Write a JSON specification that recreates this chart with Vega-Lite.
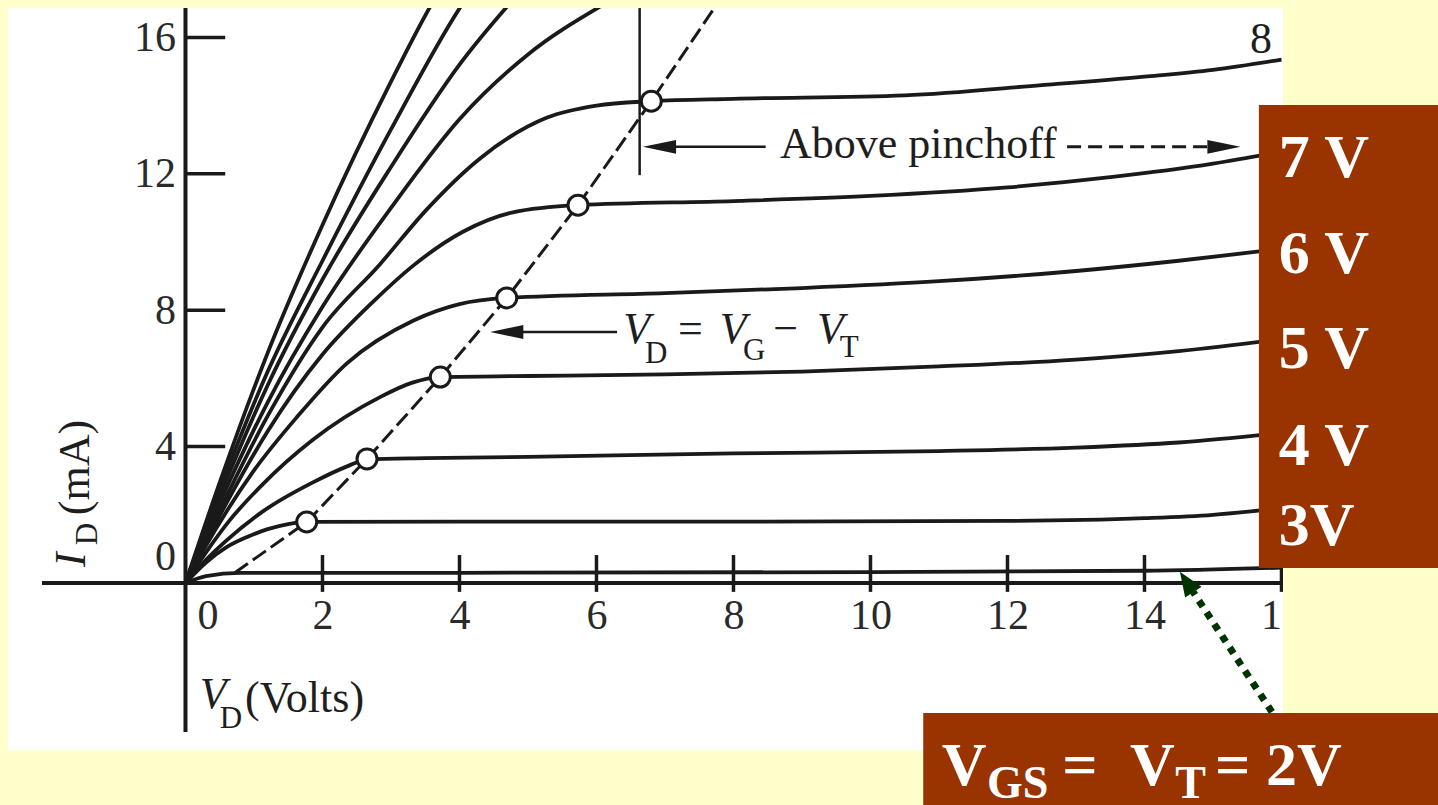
{
  "$schema": "https://vega.github.io/schema/vega-lite/v6.json",
  "width": 1275,
  "height": 742,
  "autosize": {"type": "none"},
  "padding": {"left": 8, "top": 8, "right": 155, "bottom": 55},
  "background": "#FFFFCC",
  "config": {"view": {"fill": "white", "stroke": null}, "axis": {"grid": false}},
  "datasets": {
    "curves": [
      {"vg": 2, "V": 0, "I": 0}, {"vg": 2, "V": 0.3, "I": 0.2}, {"vg": 2, "V": 0.8, "I": 0.3}, {"vg": 2, "V": 4, "I": 0.3}, {"vg": 2, "V": 10, "I": 0.32}, {"vg": 2, "V": 14, "I": 0.36}, {"vg": 2, "V": 16, "I": 0.45},
      {"vg": 3, "V": 0, "I": 0}, {"vg": 3, "V": 0.3, "I": 0.6}, {"vg": 3, "V": 0.6, "I": 1.05}, {"vg": 3, "V": 0.9, "I": 1.35}, {"vg": 3, "V": 1.2, "I": 1.58}, {"vg": 3, "V": 1.5, "I": 1.73}, {"vg": 3, "V": 1.77, "I": 1.79}, {"vg": 3, "V": 4, "I": 1.8}, {"vg": 3, "V": 8, "I": 1.8}, {"vg": 3, "V": 12, "I": 1.82}, {"vg": 3, "V": 14, "I": 1.9}, {"vg": 3, "V": 15, "I": 2.0}, {"vg": 3, "V": 16, "I": 2.2},
      {"vg": 4, "V": 0, "I": 0}, {"vg": 4, "V": 0.3, "I": 0.68}, {"vg": 4, "V": 0.6, "I": 1.25}, {"vg": 4, "V": 1.13, "I": 2.1}, {"vg": 4, "V": 1.86, "I": 2.95}, {"vg": 4, "V": 2.36, "I": 3.42}, {"vg": 4, "V": 2.65, "I": 3.62}, {"vg": 4, "V": 3.5, "I": 3.66}, {"vg": 4, "V": 5, "I": 3.7}, {"vg": 4, "V": 8, "I": 3.8}, {"vg": 4, "V": 11, "I": 3.87}, {"vg": 4, "V": 13, "I": 3.97}, {"vg": 4, "V": 14.5, "I": 4.12}, {"vg": 4, "V": 16, "I": 4.4},
      {"vg": 5, "V": 0, "I": 0}, {"vg": 5, "V": 0.3, "I": 0.9}, {"vg": 5, "V": 0.65, "I": 1.85}, {"vg": 5, "V": 1.13, "I": 2.9}, {"vg": 5, "V": 1.86, "I": 4.2}, {"vg": 5, "V": 2.84, "I": 5.45}, {"vg": 5, "V": 3.3, "I": 5.87}, {"vg": 5, "V": 3.72, "I": 6.04}, {"vg": 5, "V": 5, "I": 6.07}, {"vg": 5, "V": 7, "I": 6.12}, {"vg": 5, "V": 9, "I": 6.2}, {"vg": 5, "V": 11, "I": 6.35}, {"vg": 5, "V": 13, "I": 6.55}, {"vg": 5, "V": 14.5, "I": 6.8}, {"vg": 5, "V": 16, "I": 7.15},
      {"vg": 6, "V": 0, "I": 0}, {"vg": 6, "V": 0.3, "I": 1.1}, {"vg": 6, "V": 0.6, "I": 2.1}, {"vg": 6, "V": 1, "I": 3.3}, {"vg": 6, "V": 1.62, "I": 4.85}, {"vg": 6, "V": 2.36, "I": 6.45}, {"vg": 6, "V": 3.33, "I": 7.7}, {"vg": 6, "V": 4, "I": 8.18}, {"vg": 6, "V": 4.69, "I": 8.36}, {"vg": 6, "V": 7, "I": 8.5}, {"vg": 6, "V": 9, "I": 8.65}, {"vg": 6, "V": 11, "I": 8.85}, {"vg": 6, "V": 13, "I": 9.15}, {"vg": 6, "V": 14.5, "I": 9.45}, {"vg": 6, "V": 16, "I": 9.8},
      {"vg": 7, "V": 0, "I": 0}, {"vg": 7, "V": 0.3, "I": 1.2}, {"vg": 7, "V": 0.6, "I": 2.35}, {"vg": 7, "V": 1.2, "I": 4.45}, {"vg": 7, "V": 2, "I": 6.7}, {"vg": 7, "V": 2.74, "I": 8.25}, {"vg": 7, "V": 3.32, "I": 9.3}, {"vg": 7, "V": 4.05, "I": 10.3}, {"vg": 7, "V": 4.78, "I": 10.87}, {"vg": 7, "V": 5.73, "I": 11.08}, {"vg": 7, "V": 8, "I": 11.2}, {"vg": 7, "V": 10, "I": 11.35}, {"vg": 7, "V": 12, "I": 11.6}, {"vg": 7, "V": 13.5, "I": 11.9}, {"vg": 7, "V": 15, "I": 12.3}, {"vg": 7, "V": 16, "I": 12.65},
      {"vg": 8, "V": 0, "I": 0}, {"vg": 8, "V": 0.3, "I": 1.3}, {"vg": 8, "V": 0.6, "I": 2.55}, {"vg": 8, "V": 1.2, "I": 4.9}, {"vg": 8, "V": 2, "I": 7.5}, {"vg": 8, "V": 2.84, "I": 9.35}, {"vg": 8, "V": 3.52, "I": 10.95}, {"vg": 8, "V": 4.3, "I": 12.45}, {"vg": 8, "V": 5.28, "I": 13.65}, {"vg": 8, "V": 6.0, "I": 14.0}, {"vg": 8, "V": 6.8, "I": 14.13}, {"vg": 8, "V": 8, "I": 14.2}, {"vg": 8, "V": 10.5, "I": 14.3}, {"vg": 8, "V": 12.5, "I": 14.6}, {"vg": 8, "V": 14, "I": 14.85}, {"vg": 8, "V": 15, "I": 15.05}, {"vg": 8, "V": 16, "I": 15.35},
      {"vg": 9, "V": 0, "I": 0}, {"vg": 9, "V": 0.5, "I": 2.35}, {"vg": 9, "V": 1.2, "I": 5.3}, {"vg": 9, "V": 2, "I": 8.1}, {"vg": 9, "V": 3, "I": 11.0}, {"vg": 9, "V": 4, "I": 13.6}, {"vg": 9, "V": 5, "I": 15.5}, {"vg": 9, "V": 6.05, "I": 16.9}, {"vg": 9, "V": 6.4, "I": 17.3},
      {"vg": 10, "V": 0, "I": 0}, {"vg": 10, "V": 0.5, "I": 2.55}, {"vg": 10, "V": 1.2, "I": 5.8}, {"vg": 10, "V": 2, "I": 8.9}, {"vg": 10, "V": 3, "I": 12.2}, {"vg": 10, "V": 4, "I": 15.2}, {"vg": 10, "V": 5, "I": 17.6},
      {"vg": 11, "V": 0, "I": 0}, {"vg": 11, "V": 0.5, "I": 2.75}, {"vg": 11, "V": 1.2, "I": 6.2}, {"vg": 11, "V": 2, "I": 9.45}, {"vg": 11, "V": 3, "I": 13.3}, {"vg": 11, "V": 4, "I": 16.85}, {"vg": 11, "V": 4.5, "I": 18.3},
      {"vg": 12, "V": 0, "I": 0}, {"vg": 12, "V": 0.5, "I": 2.95}, {"vg": 12, "V": 1.2, "I": 6.75}, {"vg": 12, "V": 2, "I": 10.5}, {"vg": 12, "V": 3, "I": 14.7}, {"vg": 12, "V": 3.6, "I": 17.0}, {"vg": 12, "V": 4, "I": 18.3}
    ],
    "locus": [
      {"V": 0.72, "I": 0.3}, {"V": 1.77, "I": 1.79}, {"V": 2.65, "I": 3.64}, {"V": 3.72, "I": 6.04}, {"V": 4.69, "I": 8.36}, {"V": 5.73, "I": 11.08}, {"V": 6.8, "I": 14.13}, {"V": 7.8, "I": 17.1}
    ],
    "circles": [
      {"V": 1.77, "I": 1.79}, {"V": 2.65, "I": 3.64}, {"V": 3.72, "I": 6.04}, {"V": 4.69, "I": 8.36}, {"V": 5.73, "I": 11.08}, {"V": 6.8, "I": 14.13}
    ],
    "axislines": [
      {"V": -2.095, "I": 0, "V2": 16.022, "I2": 0},
      {"V": 0, "I": 16.862, "V2": 0, "I2": -4.37}
    ],
    "ticks": [
      {"V": 2, "I": 0.82, "V2": 2, "I2": -0.26}, {"V": 4, "I": 0.82, "V2": 4, "I2": -0.26}, {"V": 6, "I": 0.82, "V2": 6, "I2": -0.26}, {"V": 8, "I": 0.82, "V2": 8, "I2": -0.26}, {"V": 10, "I": 0.82, "V2": 10, "I2": -0.26}, {"V": 12, "I": 0.82, "V2": 12, "I2": -0.26}, {"V": 14, "I": 0.82, "V2": 14, "I2": -0.26}, {"V": 16, "I": 0.82, "V2": 16, "I2": -0.26},
      {"V": 0, "I": 4, "V2": 0.58, "I2": 4}, {"V": 0, "I": 8, "V2": 0.58, "I2": 8}, {"V": 0, "I": 12, "V2": 0.58, "I2": 12}, {"V": 0, "I": 16, "V2": 0.58, "I2": 16}
    ],
    "annlines": [
      {"V": 6.63, "I": 16.86, "V2": 6.63, "I2": 11.96},
      {"V": 7.0, "I": 12.79, "V2": 8.47, "I2": 12.79},
      {"V": 4.8, "I": 7.36, "V2": 6.3, "I2": 7.36}
    ],
    "anndash": [
      {"V": 12.87, "I": 12.79, "V2": 14.95, "I2": 12.79}
    ],
    "headsLeft": [
      {"V": 6.92, "I": 12.79}, {"V": 4.69, "I": 7.36}
    ],
    "headsRight": [
      {"V": 15.16, "I": 12.79}
    ],
    "plain": [
      {"V": 8.68, "I": 12.46, "t": "Above pinchoff"},
      {"V": 7.19, "I": 7.04, "t": "="},
      {"V": 8.58, "I": 7.04, "t": "−"},
      {"V": 0.87, "I": -3.78, "t": "(Volts)"},
      {"V": 15.54, "I": 15.54, "t": "8"}
    ],
    "italic": [
      {"V": 6.39, "I": 7.04, "t": "V"},
      {"V": 7.8, "I": 7.04, "t": "V"},
      {"V": 9.22, "I": 7.04, "t": "V"},
      {"V": 0.21, "I": -3.67, "t": "V"}
    ],
    "subs": [
      {"V": 6.71, "I": 6.45, "t": "D"},
      {"V": 8.14, "I": 6.54, "t": "G"},
      {"V": 9.55, "I": 6.63, "t": "T"},
      {"V": 0.5, "I": -4.25, "t": "D"}
    ],
    "rotItalic": [{"V": -1.466, "I": 0.47, "t": "I"}],
    "rotSub": [{"V": -1.292, "I": 1.11, "t": "D"}],
    "rotPlain": [{"V": -1.409, "I": 1.99, "t": "(mA)"}],
    "cover": [{"V": 16.022, "I": 0.44, "V2": 18.4, "I2": -3.81}],
    "boxes": [
      {"V": 15.67, "I": 14.02, "V2": 18.4, "I2": 0.44},
      {"V": 10.77, "I": -3.81, "V2": 18.4, "I2": -6.7}
    ],
    "boxText": [
      {"V": 15.96, "I": 11.91, "t": "7 V"},
      {"V": 15.96, "I": 9.09, "t": "6 V"},
      {"V": 15.96, "I": 6.3, "t": "5 V"},
      {"V": 15.96, "I": 3.46, "t": "4 V"},
      {"V": 15.96, "I": 1.11, "t": "3V"},
      {"V": 11.04, "I": -5.92, "t": "V"},
      {"V": 12.8, "I": -5.92, "t": "="},
      {"V": 13.79, "I": -5.92, "t": "V"},
      {"V": 15.03, "I": -5.92, "t": "= 2V"}
    ],
    "boxSub": [
      {"V": 11.7, "I": -6.3, "t": "GS"},
      {"V": 14.45, "I": -6.3, "t": "T"}
    ],
    "green": [{"V": 15.86, "I": -3.78, "V2": 14.71, "I2": -0.26}],
    "greenHead": [{"V": 14.615, "I": 0.03}]
  },
  "encoding": {
    "x": {"field": "V", "type": "quantitative", "scale": {"domain": [-2.591, 16.022], "nice": false, "zero": false},
      "axis": {"values": [0, 2, 4, 6, 8, 10, 12, 14, 16], "orient": "bottom", "offset": -167, "domain": false, "ticks": false, "grid": false, "labelPadding": 12, "labelFont": "Liberation Serif", "labelFontSize": 42, "labelColor": "#2a2a2a", "labelFlush": false, "labelOverlap": false, "labelOffset": {"condition": {"test": "datum.value === 0", "value": 22}, "value": 0}, "title": null}},
    "y": {"field": "I", "type": "quantitative", "scale": {"domain": [-4.897, 16.862], "nice": false, "zero": false},
      "axis": {"values": [0, 4, 8, 12, 16], "orient": "left", "offset": -177.5, "domain": false, "ticks": false, "grid": false, "labelPadding": 10, "labelFont": "Liberation Serif", "labelFontSize": 42, "labelColor": "#2a2a2a", "labelFlush": false, "labelOverlap": false, "labelOffset": {"condition": {"test": "datum.value === 0", "value": -27}, "value": 0}, "title": null}}
  },
  "layer": [
    {
      "data": {"name": "curves"},
      "mark": {"type": "line", "interpolate": "monotone", "clip": true, "color": "#1a1a1a", "strokeWidth": 3.8},
      "encoding": {"detail": {"field": "vg", "type": "nominal"}}
    },
    {
      "data": {"name": "axislines"},
      "mark": {"type": "rule", "color": "#1a1a1a", "strokeWidth": 4},
      "encoding": {"x2": {"field": "V2"}, "y2": {"field": "I2"}}
    },
    {
      "data": {"name": "ticks"},
      "mark": {"type": "rule", "color": "#1a1a1a", "strokeWidth": 3.5},
      "encoding": {"x2": {"field": "V2"}, "y2": {"field": "I2"}}
    },
    {
      "data": {"name": "locus"},
      "mark": {"type": "line", "clip": true, "color": "#1a1a1a", "strokeWidth": 3, "strokeDash": [16, 6]},
      "encoding": {}
    },
    {
      "data": {"name": "circles"},
      "mark": {"type": "point", "shape": "circle", "filled": true, "fill": "white", "stroke": "#1a1a1a", "strokeWidth": 3, "size": 400, "opacity": 1},
      "encoding": {}
    },
    {
      "data": {"name": "annlines"},
      "mark": {"type": "rule", "color": "#1a1a1a", "strokeWidth": 2.5},
      "encoding": {"x2": {"field": "V2"}, "y2": {"field": "I2"}}
    },
    {
      "data": {"name": "anndash"},
      "mark": {"type": "rule", "color": "#1a1a1a", "strokeWidth": 3, "strokeDash": [14, 7]},
      "encoding": {"x2": {"field": "V2"}, "y2": {"field": "I2"}}
    },
    {
      "data": {"name": "headsLeft"},
      "mark": {"type": "point", "shape": "M-1,0L1,-0.42L1,0.42Z", "filled": true, "color": "#1a1a1a", "size": 1100, "opacity": 1},
      "encoding": {}
    },
    {
      "data": {"name": "headsRight"},
      "mark": {"type": "point", "shape": "M1,0L-1,-0.42L-1,0.42Z", "filled": true, "color": "#1a1a1a", "size": 1100, "opacity": 1},
      "encoding": {}
    },
    {
      "data": {"name": "plain"},
      "mark": {"type": "text", "align": "left", "baseline": "alphabetic", "font": "Liberation Serif", "fontSize": 44, "color": "#1e1e1e"},
      "encoding": {"text": {"field": "t"}}
    },
    {
      "data": {"name": "italic"},
      "mark": {"type": "text", "align": "left", "baseline": "alphabetic", "font": "Liberation Serif", "fontStyle": "italic", "fontSize": 44, "color": "#1e1e1e"},
      "encoding": {"text": {"field": "t"}}
    },
    {
      "data": {"name": "subs"},
      "mark": {"type": "text", "align": "left", "baseline": "alphabetic", "font": "Liberation Serif", "fontSize": 31, "color": "#1e1e1e"},
      "encoding": {"text": {"field": "t"}}
    },
    {
      "data": {"name": "rotItalic"},
      "mark": {"type": "text", "align": "left", "baseline": "alphabetic", "angle": 270, "font": "Liberation Serif", "fontStyle": "italic", "fontSize": 44, "color": "#1e1e1e"},
      "encoding": {"text": {"field": "t"}}
    },
    {
      "data": {"name": "rotSub"},
      "mark": {"type": "text", "align": "left", "baseline": "alphabetic", "angle": 270, "font": "Liberation Serif", "fontSize": 31, "color": "#1e1e1e"},
      "encoding": {"text": {"field": "t"}}
    },
    {
      "data": {"name": "rotPlain"},
      "mark": {"type": "text", "align": "left", "baseline": "alphabetic", "angle": 270, "font": "Liberation Serif", "fontSize": 44, "color": "#1e1e1e"},
      "encoding": {"text": {"field": "t"}}
    },
    {
      "data": {"name": "cover"},
      "mark": {"type": "rect", "color": "#FFFFCC"},
      "encoding": {"x2": {"field": "V2"}, "y2": {"field": "I2"}}
    },
    {
      "data": {"name": "boxes"},
      "mark": {"type": "rect", "color": "#993300"},
      "encoding": {"x2": {"field": "V2"}, "y2": {"field": "I2"}}
    },
    {
      "data": {"name": "boxText"},
      "mark": {"type": "text", "align": "left", "baseline": "alphabetic", "font": "Liberation Serif", "fontWeight": "bold", "fontSize": 62, "color": "white"},
      "encoding": {"text": {"field": "t"}}
    },
    {
      "data": {"name": "boxSub"},
      "mark": {"type": "text", "align": "left", "baseline": "alphabetic", "font": "Liberation Serif", "fontWeight": "bold", "fontSize": 46, "color": "white"},
      "encoding": {"text": {"field": "t"}}
    },
    {
      "data": {"name": "green"},
      "mark": {"type": "rule", "color": "#003300", "strokeWidth": 7, "strokeDash": [7, 7]},
      "encoding": {"x2": {"field": "V2"}, "y2": {"field": "I2"}}
    },
    {
      "data": {"name": "greenHead"},
      "mark": {"type": "point", "shape": "M0,-1L0.8,1L-0.8,1Z", "filled": true, "color": "#003300", "size": 600, "angle": 326.7, "opacity": 1},
      "encoding": {}
    }
  ]
}
